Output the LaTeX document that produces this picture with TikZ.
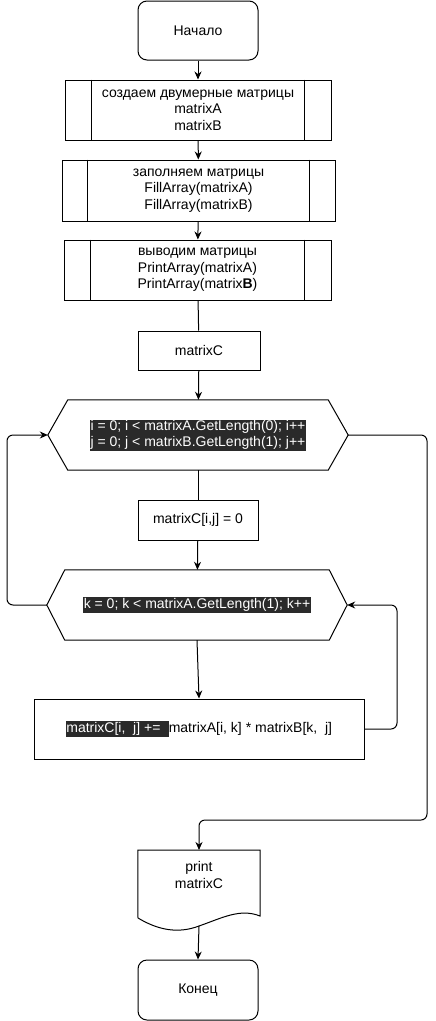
\documentclass[tikz,border=0pt]{standalone}
\usepackage{fontspec}
\setmainfont{Liberation Sans}
\usetikzlibrary{calc,arrows.meta}
\definecolor{hlbg}{RGB}{42,42,42}
\newcommand{\hl}[1]{{\setlength{\fboxsep}{0.5pt}\colorbox{hlbg}{\textcolor{white}{\rule[-3.6pt]{0pt}{14.4pt}#1}}}}
\tikzset{
  box/.style={draw, line width=1pt, rectangle, inner sep=0pt, align=center, font=\fontsize{14}{16.6}\selectfont},
  term/.style={box, rounded corners=9pt},
  proc/.style={box},
  hexnode/.style={rectangle, inner sep=0pt, align=center, font=\fontsize{14}{16.6}\selectfont},
  arr/.style={line width=1pt, -{Stealth[length=8pt,width=7pt]}},
  ln/.style={line width=1pt},
}
\begin{document}
\begin{tikzpicture}[x=1pt,y=-1pt]
\useasboundingbox (0,0) rectangle (436,1021);
% nodes
\node[term, minimum width=120, minimum height=59] (start) at (198,30.5) {Начало};
\node[proc, minimum width=266, minimum height=60] (p1) at (198,110) {создаем двумерные матрицы\\matrixA\\matrixB};
\node[proc, minimum width=273, minimum height=61] (p2) at (198.5,190.5) {заполняем матрицы\\FillArray(matrixA)\\FillArray(matrixB)};
\node[proc, minimum width=267, minimum height=60] (p3) at (197.5,270) {выводим матрицы\\PrintArray(matrixA)\\PrintArray(matrix\textbf{B})};
\node[box, minimum width=122, minimum height=39] (mc) at (199,350.5) {matrixC};
\node[hexnode, minimum width=300, minimum height=70] (h1) at (198,435) {\hl{i = 0; i < matrixA.GetLength(0); i++}\\[-1pt]\hl{j = 0; j < matrixB.GetLength(1); j++}};
\node[box, minimum width=120, minimum height=40] (z) at (198,520) {matrixC[i,j] = 0};
\node[hexnode, minimum width=300, minimum height=70] (h2) at (197,605) {\hl{k = 0; k < matrixA.GetLength(1); k++}};
\node[box, minimum width=330, minimum height=60] (r3) at (199,729) {\hl{matrixC[i,\ \ j] +=\ \ }matrixA[i, k] * matrixB[k,\ \ j]};
\node[hexnode, minimum width=122, minimum height=50, anchor=north] (doc) at (199,850) {print\\matrixC};
\node[term, minimum width=120, minimum height=60] (end) at (198,990) {Конец};
% process inner lines
\foreach \n/\d in {p1/27,p2/26,p3/27}{
  \draw[ln] ($(\n.north west)+(\d,0)$) -- ($(\n.south west)+(\d,0)$);
  \draw[ln] ($(\n.north east)+(-\d,0)$) -- ($(\n.south east)+(-\d,0)$);
}
% hexagons
\draw[ln] (h1.west) -- ($(h1.north west)+(20,0)$) -- ($(h1.north east)+(-20,0)$) -- (h1.east) -- ($(h1.south east)+(-20,0)$) -- ($(h1.south west)+(20,0)$) -- cycle;
\draw[ln] (h2.west) -- ($(h2.north west)+(18,0)$) -- ($(h2.north east)+(-18,0)$) -- (h2.east) -- ($(h2.south east)+(-18,0)$) -- ($(h2.south west)+(18,0)$) -- cycle;
% document shape
\draw[ln] (doc.north west) -- (doc.north east) -- (260,916) .. controls (240,908) and (222,918) .. (199,926) .. controls (178,934) and (158,930) .. (138,918) -- cycle;
\coordinate (docb) at (199,926);
% connectors
\draw[arr] (start) -- (p1);
\draw[arr] (p1) -- (p2);
\draw[arr] (p2) -- (p3);
\draw[ln] (p3) -- (mc);
\draw[arr] (mc) -- (h1);
\draw[ln] (h1.south) -- (z.north);
\draw[arr] (z) -- (h2);
\draw[arr] (h2.south) -- (r3.north);
\coordinate (rr) at (397,729);
\draw[arr, rounded corners=6pt] (r3.east) -- (rr) |- (h2.east);
\coordinate (ll) at (7,605);
\draw[arr, rounded corners=6pt] (h2.west) -- (ll) |- (h1.west);
\coordinate (c1) at (427,820);
\draw[arr, rounded corners=6pt] (h1.east) -| (c1) -| (doc.north);
\draw[arr] (docb) -- (end.north);
\end{tikzpicture}
\end{document}
